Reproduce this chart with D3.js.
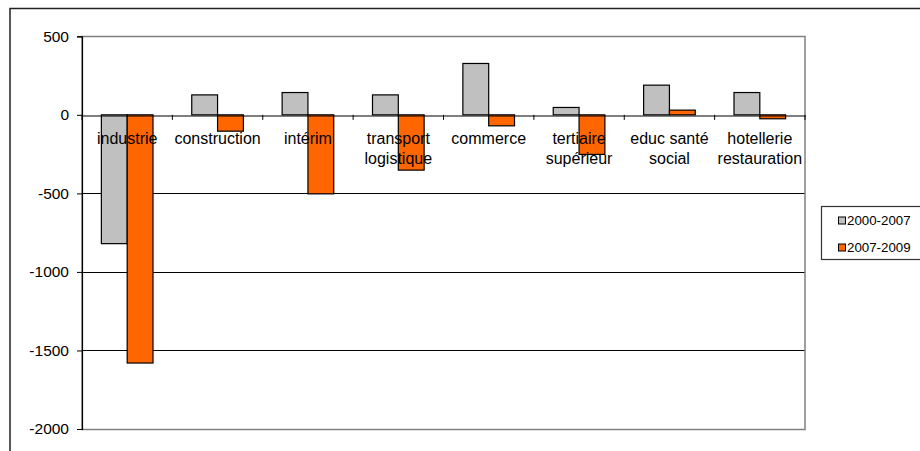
<!DOCTYPE html>
<html><head><meta charset="utf-8">
<script src="https://cdn.jsdelivr.net/npm/d3@7"></script>
<style>
html,body{margin:0;padding:0;background:#fff;}
svg{display:block;}
text{font-family:"Liberation Sans",Arial,sans-serif;fill:#000;}
</style></head>
<body>
<svg id="chart" width="920" height="451"></svg>
<script>
const categories = [["industrie"],["construction"],["intérim"],["transport","logistique"],["commerce"],["tertiaire","supérieur"],["educ santé","social"],["hotellerie","restauration"]];
const seriesNames = ["2000-2007","2007-2009"];
const values2000_2007 = [-820, 127, 142, 127, 327, 47, 189, 142];
const values2007_2009 = [-1580, -104, -503, -352, -70, -252, 30, -25];
const yTicks = [500, 0, -500, -1000, -1500, -2000];
const colors = ["#c0c0c0", "#ff6600"];

const svg = d3.select("#chart");
const plot = {x0: 82, x1: 805, y0: 36.3, y1: 429};

// outer chart border
svg.append("rect").attr("x",10).attr("y",8.5).attr("width",930).attr("height",460)
  .attr("fill","none").attr("stroke","#222").attr("stroke-width",1.5);

const keys = categories.map(c => c.join(" "));
const x = d3.scaleBand().domain(keys).range([plot.x0, plot.x1]).paddingInner(0).paddingOuter(0);
const xs = d3.scaleBand().domain(seriesNames).range([0, x.bandwidth()]).paddingInner(0).paddingOuter(0.75);
const y = d3.scaleLinear().domain([-2000, 500]).range([plot.y1, plot.y0]);

// gridlines
svg.append("g").selectAll("line").data(yTicks.filter(t => t !== 0 && t !== 500 && t !== -2000)).join("line")
  .attr("x1", plot.x0).attr("x2", plot.x1)
  .attr("y1", d => Math.round(y(d))+0.5).attr("y2", d => Math.round(y(d))+0.5)
  .attr("stroke","#000").attr("stroke-width",1);

// plot border
svg.append("rect").attr("x",plot.x0).attr("y",Math.round(y(500))+0.5)
  .attr("width",plot.x1-plot.x0).attr("height",Math.round(y(-2000))-Math.round(y(500)))
  .attr("fill","none").attr("stroke","#808080").attr("stroke-width",1.5);

// bars
const data = [values2000_2007, values2007_2009];
data.forEach((vals, si) => {
  svg.append("g").selectAll("rect").data(vals).join("rect")
    .attr("x", (d,i) => x(keys[i]) + xs(seriesNames[si]))
    .attr("width", xs.bandwidth())
    .attr("y", d => y(Math.max(0,d)))
    .attr("height", d => Math.abs(y(d) - y(0)))
    .attr("fill", colors[si]).attr("stroke","#000").attr("stroke-width",1.2);
});

// y axis
const yAxis = d3.axisLeft(y).tickValues(yTicks).tickSize(5).tickPadding(8).tickFormat(d => String(d));
const ga = svg.append("g").attr("transform",`translate(${plot.x0},0)`).call(yAxis);
ga.select(".domain").attr("stroke","#000").attr("stroke-width",1.2);
ga.selectAll(".tick line").attr("stroke","#000");
ga.selectAll(".tick text").attr("font-size","15.5px").attr("font-family","Liberation Sans, Arial, sans-serif").attr("fill","#000");

// x axis at zero
const xAxis = d3.axisBottom(x).tickSize(0).tickFormat("");
const gx = svg.append("g").attr("transform",`translate(0,${Math.round(y(0))+0.5})`).call(xAxis);
gx.select(".domain").attr("stroke","#000").attr("stroke-width",1.2);
gx.selectAll(".tick").remove();
// category tick marks at band boundaries
svg.append("g").selectAll("line").data(keys.concat(["end"])).join("line")
  .attr("x1", (d,i) => plot.x0 + i*x.step()).attr("x2", (d,i) => plot.x0 + i*x.step())
  .attr("y1", y(0)).attr("y2", y(0)+5).attr("stroke","#000").attr("stroke-width",1);

// category labels
const lab = svg.append("g").selectAll("text").data(categories).join("text")
  .attr("x", (d,i) => x(keys[i]) + x.bandwidth()/2)
  .attr("y", 143.5).attr("text-anchor","middle").attr("font-size","16px");
lab.selectAll("tspan").data(d => d).join("tspan")
  .attr("x", function(){ return this.parentNode.getAttribute("x"); })
  .attr("dy", (d,i) => i === 0 ? 0 : 20).text(d => d);

// legend
const lg = svg.append("g");
lg.append("rect").attr("x",821.5).attr("y",206.5).attr("width",110).attr("height",53)
  .attr("fill","#fff").attr("stroke","#333").attr("stroke-width",1.2);
seriesNames.forEach((s, i) => {
  const cy = 220.5 + i*27;
  lg.append("rect").attr("x",838.5).attr("y",cy-3.5).attr("width",7).attr("height",7)
    .attr("fill",colors[i]).attr("stroke","#000").attr("stroke-width",1);
  lg.append("text").attr("x",847).attr("y",cy+4.5).attr("font-size","13.3px").text(s);
});
</script>
</body></html>
